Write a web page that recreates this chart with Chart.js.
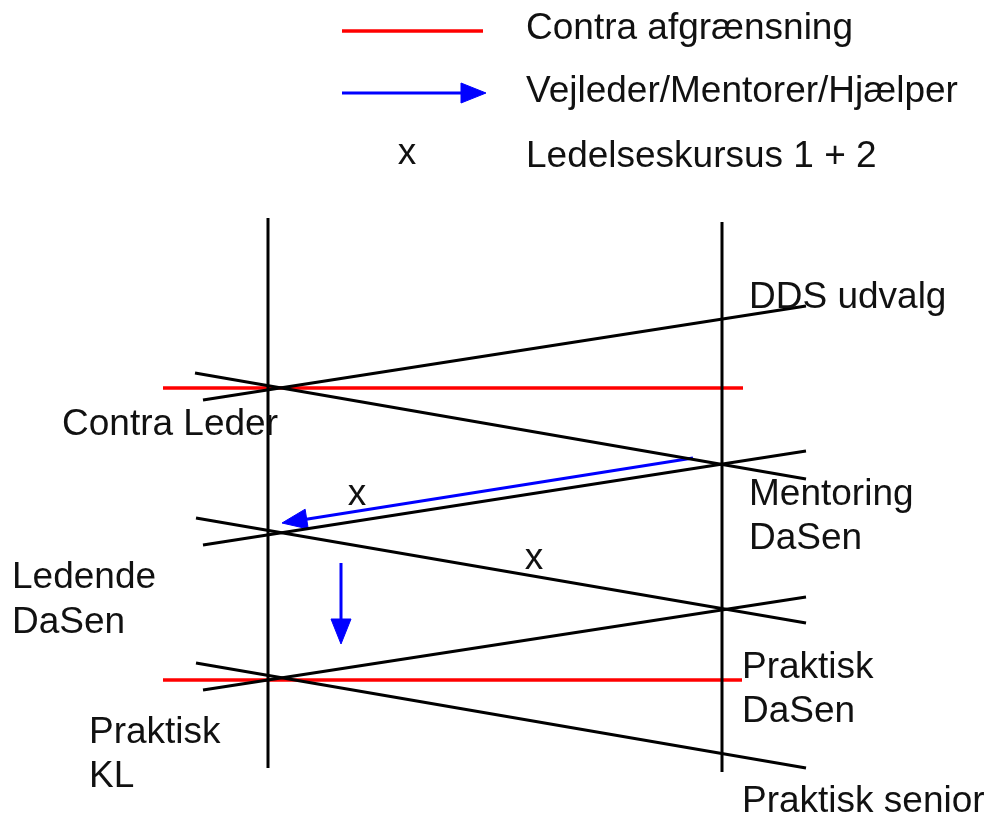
<!DOCTYPE html>
<html>
<head>
<meta charset="utf-8">
<script src="https://cdn.jsdelivr.net/npm/chart.js@4/dist/chart.umd.min.js"></script>
<style>
  html, body { margin: 0; padding: 0; background: #ffffff; }
  #c { display: block; }
</style>
</head>
<body>
<canvas id="c" width="988" height="819"></canvas>
<script>
// Diagram coordinates (x to the right, y downwards).
// Black lines: [x1, y1, x2, y2]
const blackLines = [
  [268, 218, 268, 768],
  [722, 222, 722, 772],
  [195, 373, 806, 479],
  [203, 400, 806, 306],
  [203, 545, 806, 451],
  [196, 518, 806, 623],
  [203, 690, 806, 597],
  [196, 663, 806, 768]
];
// Red "Contra afgrænsning" lines (last one is the legend sample)
const redLines = [
  [163, 388, 743, 388],
  [163, 680, 742, 680],
  [342, 31, 483, 31]
];
// Blue arrows: [fromX, fromY, tipX, tipY] (last one is the legend sample)
const blueArrows = [
  [693, 458, 282, 523],
  [341, 563, 341, 644],
  [342, 93, 486, 93]
];
// Labels: [text, left x, baseline y]
const labelTexts = [
  ["Contra afgrænsning", 526, 39],
  ["Vejleder/Mentorer/Hjælper", 526, 102],
  ["Ledelseskursus 1 + 2", 526, 167],
  ["DDS udvalg", 749, 308],
  ["Contra Leder", 62, 435],
  ["Mentoring", 749, 505],
  ["DaSen", 749, 549],
  ["Ledende", 12, 588],
  ["DaSen", 12, 633],
  ["Praktisk", 742, 678],
  ["DaSen", 742, 722],
  ["Praktisk", 89, 743],
  ["KL", 89, 787],
  ["Praktisk senior", 742, 812]
];
// "x" course markers: [center x, baseline y]
const courseMarks = [
  [407, 164],
  [357, 505],
  [534, 569]
];

const headLen = 25, headHalf = 10;

const datasets = [];
function seg(s, color, w) {
  datasets.push({
    data: [{x: s[0], y: s[1]}, {x: s[2], y: s[3]}],
    showLine: true, borderColor: color, borderWidth: w,
    pointRadius: 0, pointHoverRadius: 0, fill: false, borderCapStyle: 'butt'
  });
}
blackLines.forEach(s => seg(s, '#000000', 3));
redLines.forEach(s => seg(s, '#ff0000', 3.5));
blueArrows.forEach(a => {
  const dx = a[2] - a[0], dy = a[3] - a[1];
  const L = Math.hypot(dx, dy), ux = dx / L, uy = dy / L;
  const bx = a[2] - ux * headLen, by = a[3] - uy * headLen;
  seg([a[0], a[1], bx + ux * 2, by + uy * 2], '#0000ff', 3);
  const p1 = {x: a[2], y: a[3]};
  const p2 = {x: bx - uy * headHalf, y: by + ux * headHalf};
  const p3 = {x: bx + uy * headHalf, y: by - ux * headHalf};
  datasets.push({
    data: [p1, p2, p3, p1],
    showLine: true, borderColor: '#0000ff', borderWidth: 1,
    backgroundColor: '#0000ff', fill: 'shape',
    pointRadius: 0, pointHoverRadius: 0
  });
});

const textPlugin = {
  id: 'diagramText',
  afterDatasetsDraw(chart) {
    const ctx = chart.ctx, xs = chart.scales.x, ys = chart.scales.y;
    ctx.save();
    ctx.fillStyle = '#111111';
    ctx.font = '37px "Liberation Sans", Arial, sans-serif';
    ctx.textBaseline = 'alphabetic';
    ctx.textAlign = 'left';
    labelTexts.forEach(t => ctx.fillText(t[0], xs.getPixelForValue(t[1]), ys.getPixelForValue(t[2])));
    ctx.textAlign = 'center';
    courseMarks.forEach(m => ctx.fillText('x', xs.getPixelForValue(m[0]), ys.getPixelForValue(m[1])));
    ctx.restore();
  }
};

new Chart(document.getElementById('c'), {
  type: 'scatter',
  data: { datasets },
  options: {
    responsive: false,
    animation: false,
    events: [],
    layout: { padding: 0 },
    plugins: { legend: { display: false }, tooltip: { enabled: false } },
    scales: {
      x: { type: 'linear', min: 0, max: 988, display: false },
      y: { type: 'linear', min: 0, max: 819, reverse: true, display: false }
    }
  },
  plugins: [textPlugin]
});
</script>
</body>
</html>
